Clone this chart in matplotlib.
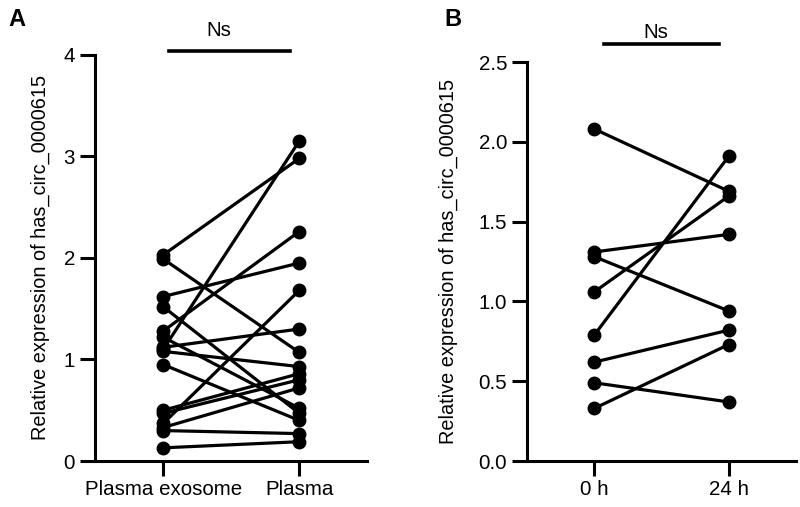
import matplotlib
matplotlib.use("Agg")
import matplotlib.pyplot as plt

plt.rcParams['font.family'] = ['Liberation Sans', 'DejaVu Sans']

# Panel A data
cats_A = ["Plasma exosome", "Plasma"]
left_A = [2.03, 1.99, 1.62, 1.52, 1.28, 1.22, 1.12, 1.10, 1.08, 0.95, 0.50, 0.47, 0.37, 0.33, 0.30, 0.13]
right_A = [2.98, 1.07, 1.95, 0.47, 2.26, 0.52, 1.30, 3.15, 0.93, 0.40, 0.86, 0.80, 1.68, 0.72, 0.27, 0.19]
yticks_A = [0, 1, 2, 3, 4]

# Panel B data
cats_B = ["0 h", "24 h"]
left_B = [2.08, 1.31, 1.28, 1.06, 0.79, 0.62, 0.49, 0.33]
right_B = [1.69, 1.42, 0.94, 1.66, 1.91, 0.82, 0.37, 0.73]
yticks_B = [0.0, 0.5, 1.0, 1.5, 2.0, 2.5]

ylabel = "Relative expression of has_circ_0000615"
sig_text = "Ns"

fig = plt.figure(figsize=(8.0, 5.07), dpi=100)
axA = fig.add_axes([0.119, 0.0907, 0.340, 0.801])
axB = fig.add_axes([0.659, 0.0907, 0.336, 0.787])

FS = 14.8

def style(ax, cats, yticks, ylim, fmt, labx):
    for s in ['top', 'right']:
        ax.spines[s].set_visible(False)
    for s in ['left', 'bottom']:
        ax.spines[s].set_linewidth(2.2)
    ax.set_xlim(-0.5, 1.5)
    ax.set_ylim(*ylim)
    ax.set_xticks([0, 1])
    ax.set_xticklabels(cats, fontsize=FS)
    ax.set_yticks(yticks)
    ax.set_yticklabels([fmt.format(v) for v in yticks], fontsize=FS)
    ax.tick_params(axis='both', width=2.2, length=10.5, color='black')
    ax.tick_params(axis='x', pad=3)
    ax.tick_params(axis='y', pad=4)
    ax.set_ylabel(ylabel, fontsize=14.3)
    ax.yaxis.set_label_coords(labx, 0.5)

def draw_pairs(ax, left, right):
    for a, b in zip(left, right):
        ax.plot([0, 1], [a, b], color='black', lw=2.3, marker='o',
                markersize=9, markerfacecolor='black', markeredgecolor='black',
                solid_capstyle='round', clip_on=False, zorder=3)

draw_pairs(axA, left_A, right_A)
draw_pairs(axB, left_B, right_B)
style(axA, cats_A, yticks_A, (0, 4), "{:g}", -0.165)
style(axB, cats_B, yticks_B, (0, 2.5), "{:.1f}", -0.258)

# significance bars
axA.plot([0.04, 0.93], [4.04, 4.04], color='black', lw=2.6, clip_on=False)
axA.text(0.41, 4.24, sig_text, ha='center', va='center', fontsize=FS)
axB.plot([0.07, 0.93], [2.61, 2.61], color='black', lw=2.6, clip_on=False)
axB.text(0.46, 2.685, sig_text, ha='center', va='center', fontsize=FS)

fig.text(0.010, 0.962, "A", fontsize=17, fontweight='bold', ha='left', va='center')
fig.text(0.556, 0.962, "B", fontsize=17, fontweight='bold', ha='left', va='center')

fig.savefig("out.png", dpi=100)
